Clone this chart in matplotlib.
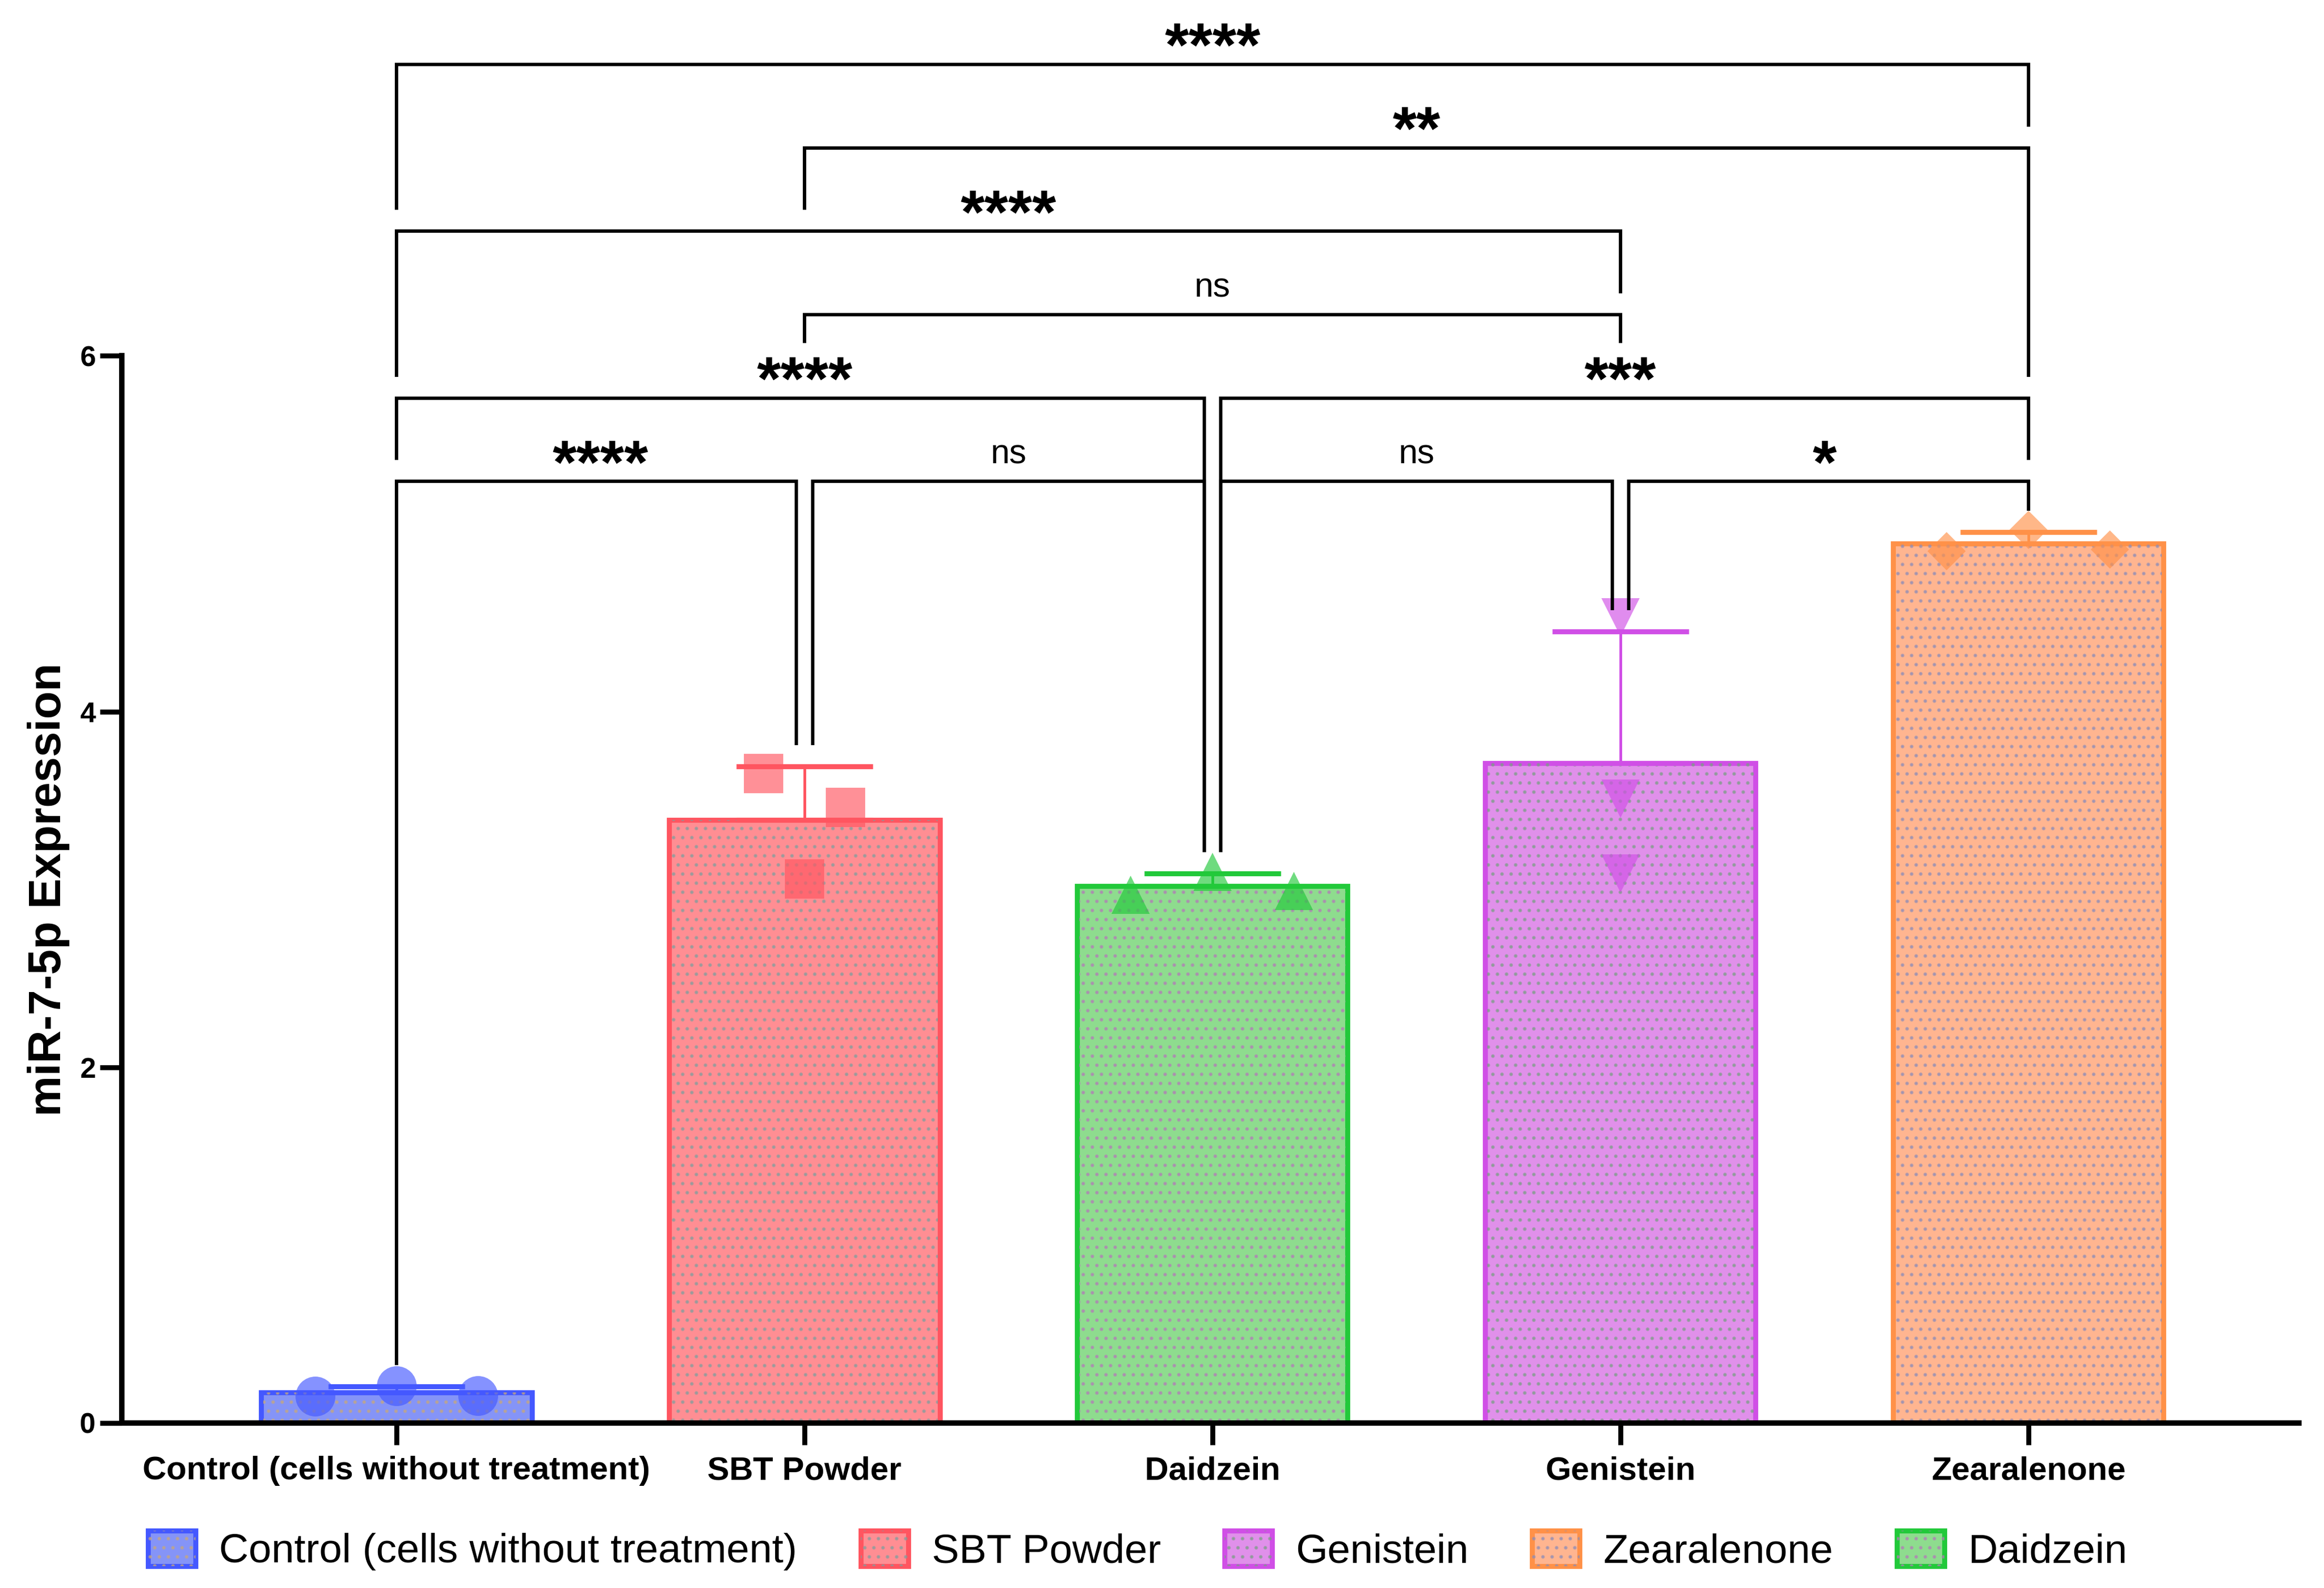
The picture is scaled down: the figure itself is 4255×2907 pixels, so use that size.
import numpy as np
import matplotlib.pyplot as plt
from matplotlib.patches import Patch
from matplotlib.legend_handler import HandlerTuple

plt.rcParams['font.family'] = ['Liberation Sans', 'DejaVu Sans']
plt.rcParams['hatch.linewidth'] = 0.8

# data (replicates, bar = mean, error = SD)
groups = ["Control (cells without treatment)", "SBT Powder", "Daidzein", "Genistein", "Zearalenone"]
control = [0.15, 0.21, 0.155]
sbt_powder = [3.65, 3.06, 3.46]
daidzein = [2.97, 3.10, 2.99]
genistein = [4.53, 3.51, 3.09]
zearalenone = [4.90, 5.02, 4.91]
replicates = [control, sbt_powder, daidzein, genistein, zearalenone]

# pairwise comparisons (group a, group b, significance) and their bracket tier
comparisons = [(0, 1, "****"), (1, 2, "ns"), (2, 3, "ns"), (3, 4, "*"),
               (0, 2, "****"), (2, 4, "***"), (1, 3, "ns"), (0, 3, "****"),
               (1, 4, "**"), (0, 4, "****")]
tiers = [0, 0, 0, 0, 1, 1, 2, 3, 4, 5]

yticks = [0, 2, 4, 6]
legend_order = [0, 1, 3, 4, 2]

# styles
fills = ['#8594F7', '#FF8E93', '#8EDC8E', '#E090EA', '#FFB590']
edges = ['#4458FF', '#FF5560', '#22C93A', '#D04FE6', '#FF9148']
dots = [(0.78, 0.66, 0.48, 0.6), (0.50, 0.62, 0.62, 0.6), (0.70, 0.48, 0.72, 0.6),
        (0.48, 0.62, 0.52, 0.6), (0.55, 0.55, 0.72, 0.6)]
markers = ['o', 's', '^', 'v', 'D']
msizes = [17.5, 17.5, 16.8, 16.8, 12]
jitter = [0.2, 0.1, 0.2, 0.0, 0.2]

x = np.arange(len(groups))
means = [np.mean(r) for r in replicates]
sds = [np.std(r, ddof=1) for r in replicates]
tops = [m + s for m, s in zip(means, sds)]

fig = plt.figure(figsize=(4255 / 300, 2907 / 300), dpi=300)
ax = fig.add_axes([223 / 4255, 302 / 2907, 3986 / 4255, 2605 / 2907])

bw = 0.663
ax.bar(x, means, width=bw, color=fills, edgecolor=edges, linewidth=2.2, zorder=2)
ax.bar(x, means, width=bw * 0.985, facecolor='none', edgecolor=dots, linewidth=0,
       hatch='...', zorder=2.1)

for i, vals in enumerate(replicates):
    n = len(vals)
    offs = np.linspace(-jitter[i], jitter[i], n) if n > 1 else [0]
    ax.plot(x[i] + np.asarray(offs), vals, linestyle='none', marker=markers[i],
            ms=msizes[i], mfc=edges[i], mec='none', alpha=0.65, zorder=3)
    ax.errorbar(x[i], means[i], yerr=[[0], [sds[i]]], fmt='none', ecolor=edges[i],
                elinewidth=1.2, capsize=30, capthick=2.2, zorder=4)

# brackets
base, step, gap, label_gap, nudge = 5.293, 0.469, 0.12, 0.31, 0.02
levels = [base + step * t for t in tiers]


def shared(i, end):
    for k, (a, b, _) in enumerate(comparisons):
        if k != i and tiers[k] == tiers[i] and end in (a, b):
            return True
    return False


def leg_bottom(i, end):
    y = levels[i]
    stops = [tops[end] + gap]
    for k, (a, b, _) in enumerate(comparisons):
        if levels[k] >= y:
            continue
        if a < end < b:
            stops.append(levels[k] + gap)
        elif end in (a, b) and not shared(k, end):
            stops.append(levels[k] + gap)
        if abs((a + b) / 2 - end) < 1e-9:
            stops.append(levels[k] + label_gap)
    return max(stops)


for i, (a, b, lab) in enumerate(comparisons):
    y = levels[i]
    xl = a + nudge if shared(i, a) else a
    xr = b - nudge if shared(i, b) else b
    ax.plot([xl, xl, xr, xr], [leg_bottom(i, a), y, y, leg_bottom(i, b)],
            color='black', lw=1.5, solid_joinstyle='miter', solid_capstyle='butt',
            clip_on=False, zorder=5)
    if lab == 'ns':
        ax.text((a + b) / 2, y + 0.10, lab, ha='center', va='baseline', fontsize=15)
    else:
        ax.text((a + b) / 2, y - 0.01, lab, ha='center', va='baseline',
                fontsize=27, fontweight='bold')

ax.set_xlim(-0.6734, 4.663)
ax.set_ylim(0, 8.0)
ax.spines[['top', 'right']].set_visible(False)
ax.spines['left'].set_bounds(0, 6)
ax.spines['left'].set_linewidth(2.4)
ax.spines['bottom'].set_linewidth(2.4)
ax.set_yticks(yticks)
ax.set_xticks(x)
ax.set_xticklabels(groups, fontsize=14.5, fontweight='bold')
ax.set_yticklabels([str(t) for t in yticks], fontsize=12.5, fontweight='bold')
ax.tick_params(axis='both', width=2.2, length=9.5)
ax.tick_params(axis='x', pad=5)
ax.tick_params(axis='y', pad=2)
ax.set_ylabel('miR-7-5p Expression', fontsize=20, fontweight='bold')
ax.yaxis.set_label_coords(-0.0238, 3 / 8)

handles = []
for i in legend_order:
    p1 = Patch(facecolor=fills[i], edgecolor=edges[i], linewidth=2.2)
    p2 = Patch(facecolor='none', edgecolor=dots[i], linewidth=0, hatch='...')
    handles.append((p1, p2))
fig.legend(handles, [groups[i] for i in legend_order], loc='center',
           bbox_to_anchor=(0.4895, 0.0235), ncol=5, frameon=False, fontsize=18,
           handlelength=1.16, handleheight=0.95, handletextpad=0.58,
           columnspacing=1.55, handler_map={tuple: HandlerTuple(ndivide=1)})

fig.savefig('out.png', dpi=300)
